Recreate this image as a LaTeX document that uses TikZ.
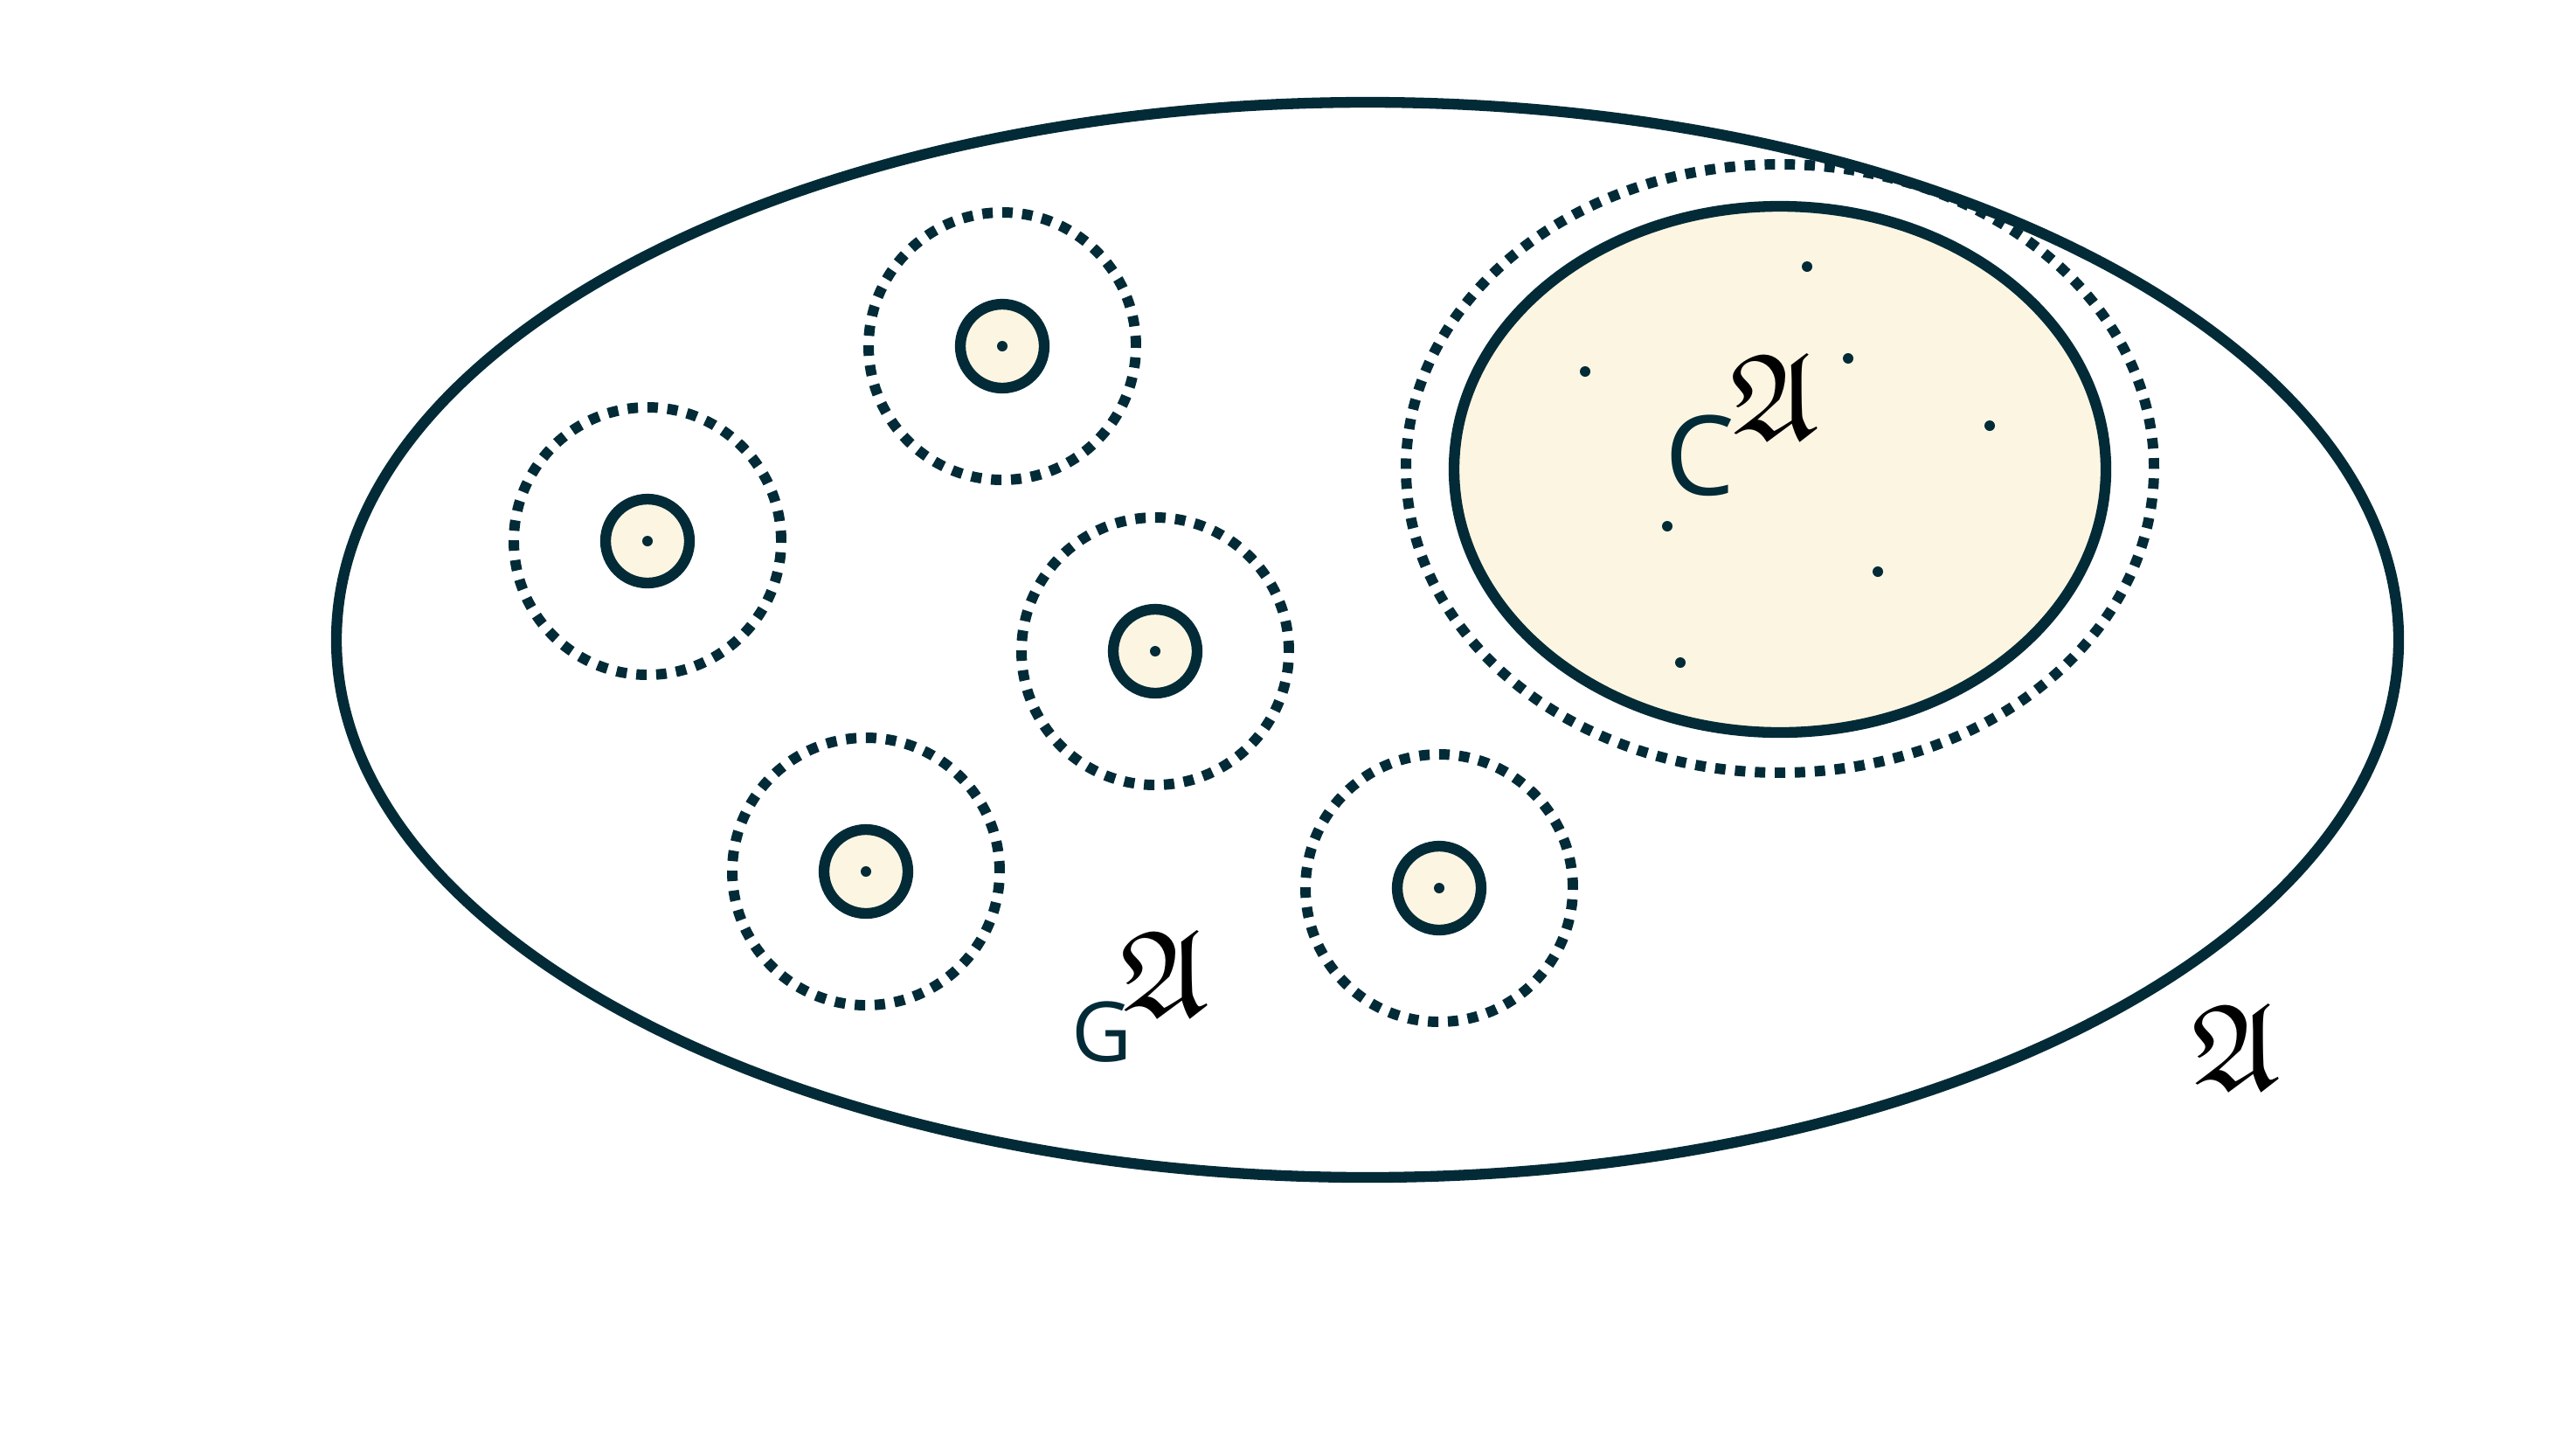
\documentclass[tikz,border=0pt]{standalone}
\usepackage{amssymb}
\usepackage{fontspec}
\newfontfamily\labelfont{Open Sans}
\definecolor{ink}{RGB}{2,43,55}
\definecolor{cream}{RGB}{252,245,226}
\tikzset{
  solidline/.style={draw=ink, line width=3.5pt},
  thickline/.style={draw=ink, line width=3.5pt},
  dotline/.style={draw=ink, line width=3.4pt, dash pattern=on 3.4pt off 3.1pt},
  pt/.style={fill=ink},
  sanslabel/.style={text=ink, inner sep=0pt, font=\labelfont\fontsize{36}{40}\selectfont},
  fraklabel/.style={text=black, inner sep=0pt, font=\fontsize{40}{44}\selectfont},
}
\begin{document}
\begin{tikzpicture}[x=1cm,y=1cm]
\useasboundingbox (0,0) rectangle (29.48,-16.59);
% outer structure A
\draw[solidline] (15.65,-7.32) ellipse [x radius=11.80, y radius=6.15];
% C region
\draw[dotline] (20.37,-5.36) ellipse [x radius=4.28, y radius=3.48];
\draw[thickline, fill=cream] (20.37,-5.37) ellipse [x radius=3.73, y radius=3.01];
\foreach \p/\q in {20.68/3.05, 18.14/4.25, 21.15/4.10, 22.77/4.87, 19.08/6.02, 21.49/6.54, 19.23/7.58}
  \fill[pt] (\p,-\q) circle (0.06);
% small components
\foreach \cx/\cy [count=\i] in {11.47/3.96, 7.41/6.19, 13.22/7.45, 9.91/9.97, 16.47/10.16} {
  \draw[dotline] (\cx,-\cy) circle (1.53);
  \draw[thickline, fill=cream] (\cx,-\cy) circle (0.48);
  \fill[pt] (\cx,-\cy) circle (0.06);
}
% labels
\node[sanslabel, anchor=base west] (cl) at (19.05,-5.66) {C};
\node[fraklabel, anchor=base west] (ca) at (19.80,-5.02) {$\mathfrak{A}$};
\node[sanslabel, anchor=base west, font=\labelfont\fontsize{27}{30}\selectfont] (gl) at (12.26,-12.14) {G};
\node[fraklabel, anchor=base west] (ga) at (12.82,-11.62) {$\mathfrak{A}$};
\node[fraklabel, anchor=base west] (aa) at (25.08,-12.46) {$\mathfrak{A}$};
\end{tikzpicture}
\end{document}
